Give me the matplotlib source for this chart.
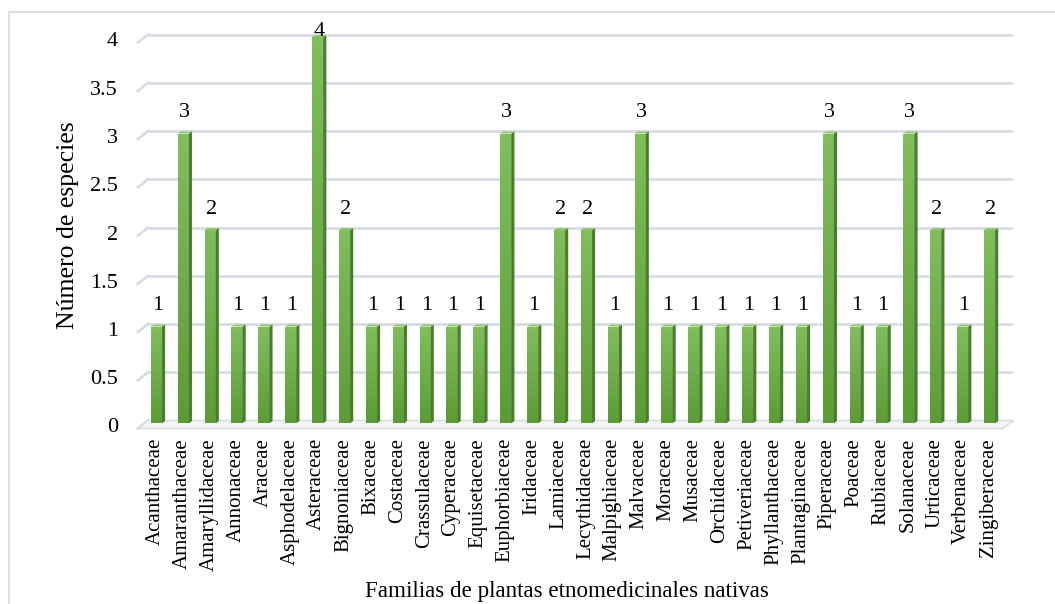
import numpy as np
import matplotlib
matplotlib.use('Agg')
import matplotlib.pyplot as plt
from matplotlib.patches import Rectangle, Polygon
from matplotlib.colors import LinearSegmentedColormap

plt.rcParams['font.family'] = ['Liberation Serif', 'DejaVu Serif']

familias = ['Acanthaceae', 'Amaranthaceae', 'Amaryllidaceae', 'Annonaceae', 'Araceae',
            'Asphodelaceae', 'Asteraceae', 'Bignoniaceae', 'Bixaceae', 'Costaceae',
            'Crassulaceae', 'Cyperaceae', 'Equisetaceae', 'Euphorbiaceae', 'Iridaceae',
            'Lamiaceae', 'Lecythidaceae', 'Malpighiaceae', 'Malvaceae', 'Moraceae',
            'Musaceae', 'Orchidaceae', 'Petiveriaceae', 'Phyllanthaceae', 'Plantaginaceae',
            'Piperaceae', 'Poaceae', 'Rubiaceae', 'Solanaceae', 'Urticaceae',
            'Verbenaceae', 'Zingiberaceae']
especies = [1, 3, 2, 1, 1, 1, 4, 2, 1, 1, 1, 1, 1, 3, 1, 2, 2, 1, 3, 1,
            1, 1, 1, 1, 1, 3, 1, 1, 3, 2, 1, 2]
yticks = [0, 0.5, 1, 1.5, 2, 2.5, 3, 3.5, 4]

W, H = 1055, 604
fig = plt.figure(figsize=(W / 100, H / 100), dpi=100)

# marco exterior del grafico
fig.patches.append(Rectangle((9 / W, -0.1), 1.2, 1 - 12 / H + 0.1, transform=fig.transFigure,
                             fill=False, edgecolor='#d9d9d9', lw=1.2))

ax_l, ax_r, ax_t, ax_b = 143, 1003, 37, 423   # plano de las barras, en pixeles
ax = fig.add_axes([ax_l / W, (H - ax_b) / H, (ax_r - ax_l) / W, (ax_b - ax_t) / H])
n = len(familias)
ax.set_xlim(-0.5, n - 0.5)
ax.set_ylim(0, 4)
ax.axis('off')

dxp = n / (ax_r - ax_l)      # unidades de x por pixel
dyp = 4 / (ax_b - ax_t)      # unidades de y por pixel

grid_c = '#d9dde3'
# pared del fondo (lineas de division) y su arista en perspectiva
for v in yticks:
    yb = v + 2.5 * dyp
    ax.plot([-0.5 + 5 * dxp, n - 0.5 + 10 * dxp], [yb, yb], color=grid_c, lw=2,
            clip_on=False, solid_capstyle='butt', zorder=1)
    ax.plot([-0.5 - 5 * dxp, -0.5 + 5 * dxp], [yb - 8 * dyp, yb], color=grid_c, lw=2,
            clip_on=False, zorder=1)
    ax.text(-0.5 - 25 * dxp, v - 5 * dyp, f'{v:g}', ha='right', va='center',
            fontsize=16, clip_on=False)

# piso
piso = Polygon([(-0.5 + 5 * dxp, 2.5 * dyp), (n - 0.5 + 10 * dxp, 2.5 * dyp),
                (n - 0.5, -5.5 * dyp), (-0.5 - 5 * dxp, -5.5 * dyp)],
               closed=True, facecolor='#f4f5f7', edgecolor=grid_c, lw=1.2,
               clip_on=False, zorder=1)
ax.add_patch(piso)

cmap = LinearSegmentedColormap.from_list('verde', ['#80be5e', '#5c9c36'])
grad = np.linspace(0, 1, 64).reshape(-1, 1)
w = 0.42
sx, sy = 3 * dxp, 2 * dyp
for i, v in enumerate(especies):
    x0, x1 = i - w / 2, i + w / 2
    frente = Rectangle((x0, 0), w, v, facecolor='none', edgecolor='none', zorder=3)
    ax.add_patch(frente)
    im = ax.imshow(grad, cmap=cmap, extent=[x0, x1, 0, v], aspect='auto',
                   origin='upper', zorder=3)
    im.set_clip_path(frente)
    lado = Polygon([(x1, 0), (x1, v), (x1 + sx, v + sy), (x1 + sx, sy)],
                   closed=True, facecolor='#4a7d2b', edgecolor='none', zorder=3,
                   clip_on=False)
    ax.add_patch(lado)
    tapa = Polygon([(x0, v), (x1, v), (x1 + sx, v + sy), (x0 + sx, v + sy)],
                   closed=True, facecolor='#8fc870', edgecolor='none', zorder=3,
                   clip_on=False)
    ax.add_patch(tapa)
    # etiqueta de valor, sin salir del area de trazado
    ylab = min(v + 21 * dyp, 4 + 5 * dyp)
    ax.text(i + 1 * dxp, ylab, str(v), ha='center', va='center', fontsize=16,
            clip_on=False, zorder=5)
    ax.text(i - 1 * dxp, -15 * dyp, familias[i], rotation=90, ha='center', va='top',
            fontsize=15, clip_on=False)

ax.text(-0.5 - 75 * dxp, 2.05, 'Número de especies', rotation=90, ha='center',
        va='center', fontsize=18.5, clip_on=False)
fig.text(567 / W, 1 - 592 / H, 'Familias de plantas etnomedicinales nativas',
         ha='center', va='center', fontsize=16.6)

fig.savefig('out.png', dpi=100)
